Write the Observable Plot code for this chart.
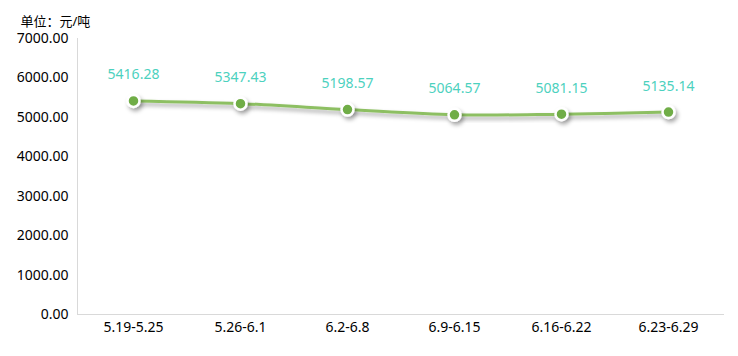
<!DOCTYPE html>
<html>
<head>
<meta charset="utf-8">
<script src="https://cdn.jsdelivr.net/npm/d3@7"></script>
<script src="https://cdn.jsdelivr.net/npm/@observablehq/plot@0.6"></script>
<style>
  html, body { margin: 0; padding: 0; background: #fff; }
  #chart svg { display: block; }
</style>
</head>
<body>
<div id="chart"></div>
<script>
const weeks = ["5.19-5.25", "5.26-6.1", "6.2-6.8", "6.9-6.15", "6.16-6.22", "6.23-6.29"];
const prices = [5416.28, 5347.43, 5198.57, 5064.57, 5081.15, 5135.14];
const yTicks = [0, 1000, 2000, 3000, 4000, 5000, 6000, 7000];
const unitLabel = "单位：元/吨";

const data = weeks.map((w, i) => ({week: w, price: prices[i]}));
const font = "'Noto Sans', 'Noto Sans CJK SC', sans-serif";

const chart = Plot.plot({
  width: 738,
  height: 356,
  marginTop: 38,
  marginLeft: 77,
  marginRight: 15,
  marginBottom: 42,
  style: {fontFamily: font, fontSize: "14px", color: "#000", background: "#fff"},
  x: {type: "point", domain: weeks, padding: 0.5, label: null},
  y: {domain: [0, 7000], label: null},
  marks: [
    Plot.axisX({tickSize: 0, tickPadding: 8, fontSize: 14, label: null}),
    Plot.axisY({ticks: yTicks, tickSize: 0, tickPadding: 9, tickFormat: d3.format(".2f"), fontSize: 14, label: null}),
    Plot.frame({anchor: "left", stroke: "#d9d9d9"}),
    Plot.frame({anchor: "bottom", stroke: "#d9d9d9"}),
    Plot.line(data, {x: "week", y: "price", stroke: "#8dbf62", strokeWidth: 3, curve: "catmull-rom", className: "shadowed"}),
    Plot.dot(data, {x: "week", y: "price", r: 6, fill: "#70ad47", stroke: "#fff", strokeWidth: 2.5, className: "shadowed"}),
    Plot.text(data, {x: "week", y: "price", text: d => d.price.toFixed(2), dy: -26, fill: "#4cd1be", fontSize: 14}),
    Plot.text([unitLabel], {frameAnchor: "top-left", text: d => d, dx: -57, dy: -17, lineAnchor: "middle", fontSize: 13, fill: "#000", textAnchor: "start"})
  ]
});

const svg = d3.select(chart);
const defs = svg.insert("defs", ":first-child");
const f = defs.append("filter").attr("id", "dropshadow").attr("x", "-50%").attr("y", "-50%").attr("width", "200%").attr("height", "200%");
f.append("feDropShadow").attr("dx", 2).attr("dy", 3).attr("stdDeviation", 2).attr("flood-color", "#000").attr("flood-opacity", 0.35);
svg.selectAll(".shadowed").attr("filter", "url(#dropshadow)");
document.getElementById("chart").appendChild(chart);
</script>
</body>
</html>
